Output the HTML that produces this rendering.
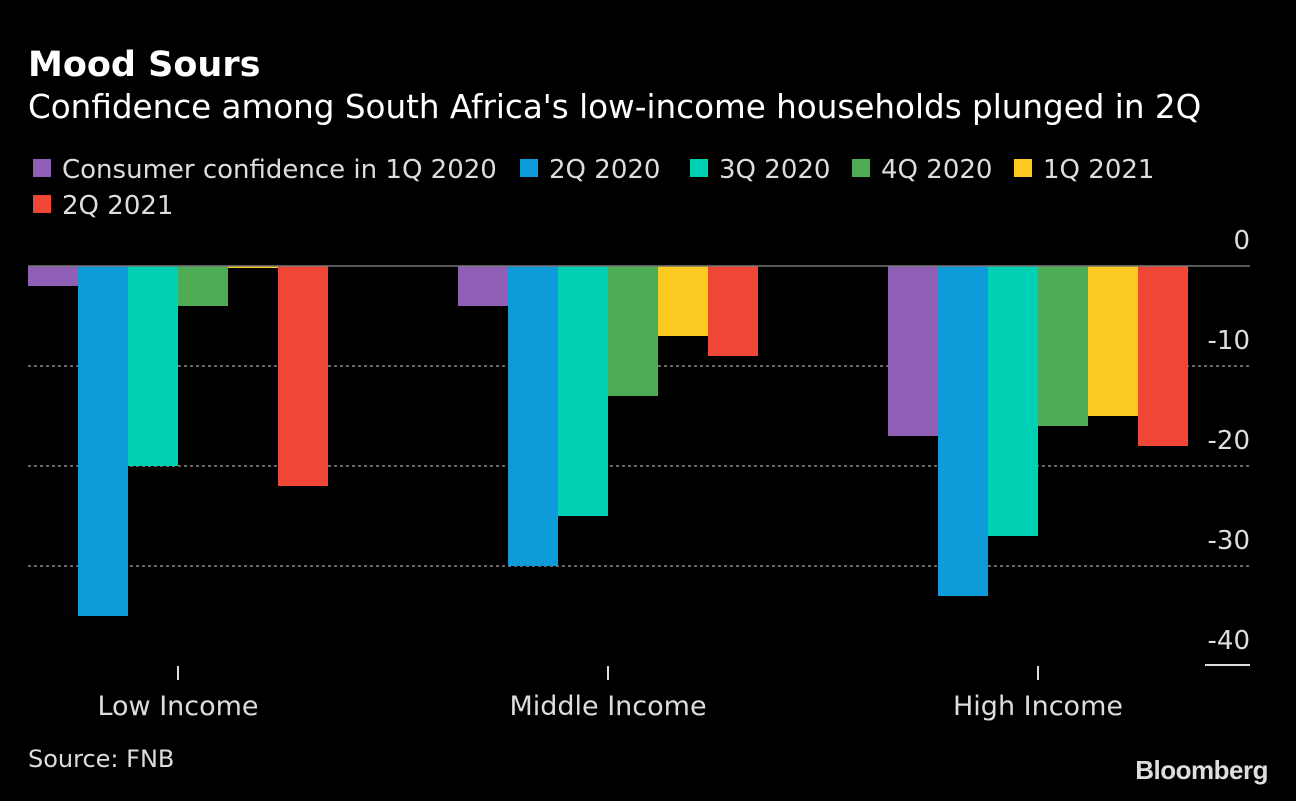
<!DOCTYPE html>
<html><head><meta charset="utf-8"><style>
body{margin:0;background:#000;width:1296px;height:796px;overflow:hidden;font-family:"Liberation Sans","DejaVu Sans",sans-serif;color:#fff}
svg text{font-family:"DejaVu Sans","Liberation Sans",sans-serif}
</style></head><body>
<svg id="c" width="1296" height="796">
<text x="28" y="76" font-size="35" font-weight="bold" fill="#fff">Mood Sours</text>
<text x="28" y="118" font-size="32.6" fill="#fff">Confidence among South Africa's low-income households plunged in 2Q</text>
<g id="legend"></g>
<g id="grid"></g><g id="bars"></g><g id="axis"></g>
<text x="28" y="767" font-size="24" fill="#ddd">Source: FNB</text>
<text x="1268" y="779" font-size="26" font-weight="bold" fill="#ddd" text-anchor="end" style="font-family:'Liberation Sans'" letter-spacing="-0.5">Bloomberg</text>
</svg>
<script>
const categories=["Low Income","Middle Income","High Income"];
const seriesNames=["Consumer confidence in 1Q 2020","2Q 2020","3Q 2020","4Q 2020","1Q 2021","2Q 2021"];
const colors=["#8e5fb5","#0e9bd9","#00d1b4","#4dac54","#fcca21","#ef4636"];
const q1_2020=[-2,-4,-17];
const q2_2020=[-35,-30,-33];
const q3_2020=[-20,-25,-27];
const q4_2020=[-4,-13,-16];
const q1_2021=[-0.2,-7,-15];
const q2_2021=[-22,-9,-18];
const series=[q1_2020,q2_2020,q3_2020,q4_2020,q1_2021,q2_2021];
const yTicks=[0,-10,-20,-30,-40];
const NS="http://www.w3.org/2000/svg";
const y=v=>266-v*10;
const gx=i=>28+i*430;
function mk(t,a,p,txt){const e=document.createElementNS(NS,t);for(const k in a)e.setAttribute(k,a[k]);if(txt!==undefined)e.textContent=txt;p.appendChild(e);return e;}
const leg=document.getElementById('legend');
const legPos=[[33,178],[520,178],[690,178],[852,178],[1014,178],[33,214]];
seriesNames.forEach((n,i)=>{
 const r=mk('rect',{x:legPos[i][0],y:legPos[i][1]-19,width:18,height:18,fill:colors[i]},leg);
 
 
 const t=mk('text',{x:legPos[i][0]+29,y:legPos[i][1],'font-size':26,fill:'#ddd'},leg,n);
 
 
});
const grid=document.getElementById('grid');
yTicks.forEach(v=>{
 if(v!==0&&v!==-40){const l=mk('line',{x1:28,x2:1250,y1:y(v),y2:y(v),stroke:'#888','stroke-width':1.5,'stroke-dasharray':'3,3'},grid);
 
 }
 const t=mk('text',{x:1250,y:y(v)-17,'font-size':26,fill:'#ddd','text-anchor':'end'},grid,v===0?'0':'-'+Math.abs(v));
 
 
});
const bars=document.getElementById('bars');
categories.forEach((c,ci)=>{
 series.forEach((s,si)=>{
  const v=s[ci];
  const r=mk('rect',{x:gx(ci)+si*50,y:y(0),width:50,height:Math.max(1.5,y(v)-y(0)),fill:colors[si]},bars);
  
  
 });
});
const ax=document.getElementById('axis');
const z=mk('line',{x1:28,x2:1250,y1:y(0),y2:y(0),stroke:'#777','stroke-width':1.5},ax);


const bl=mk('line',{x1:1205,x2:1250,y1:665,y2:665,stroke:'#ddd','stroke-width':2},ax);


categories.forEach((c,ci)=>{
 const cx=gx(ci)+150;
 const tk=mk('line',{x1:cx,x2:cx,y1:666,y2:680,stroke:'#ddd','stroke-width':2},ax);
 
 
 const t=mk('text',{x:cx,y:715,'font-size':27,fill:'#ddd','text-anchor':'middle'},ax,c);
 
 
});
</script>
</body></html>
